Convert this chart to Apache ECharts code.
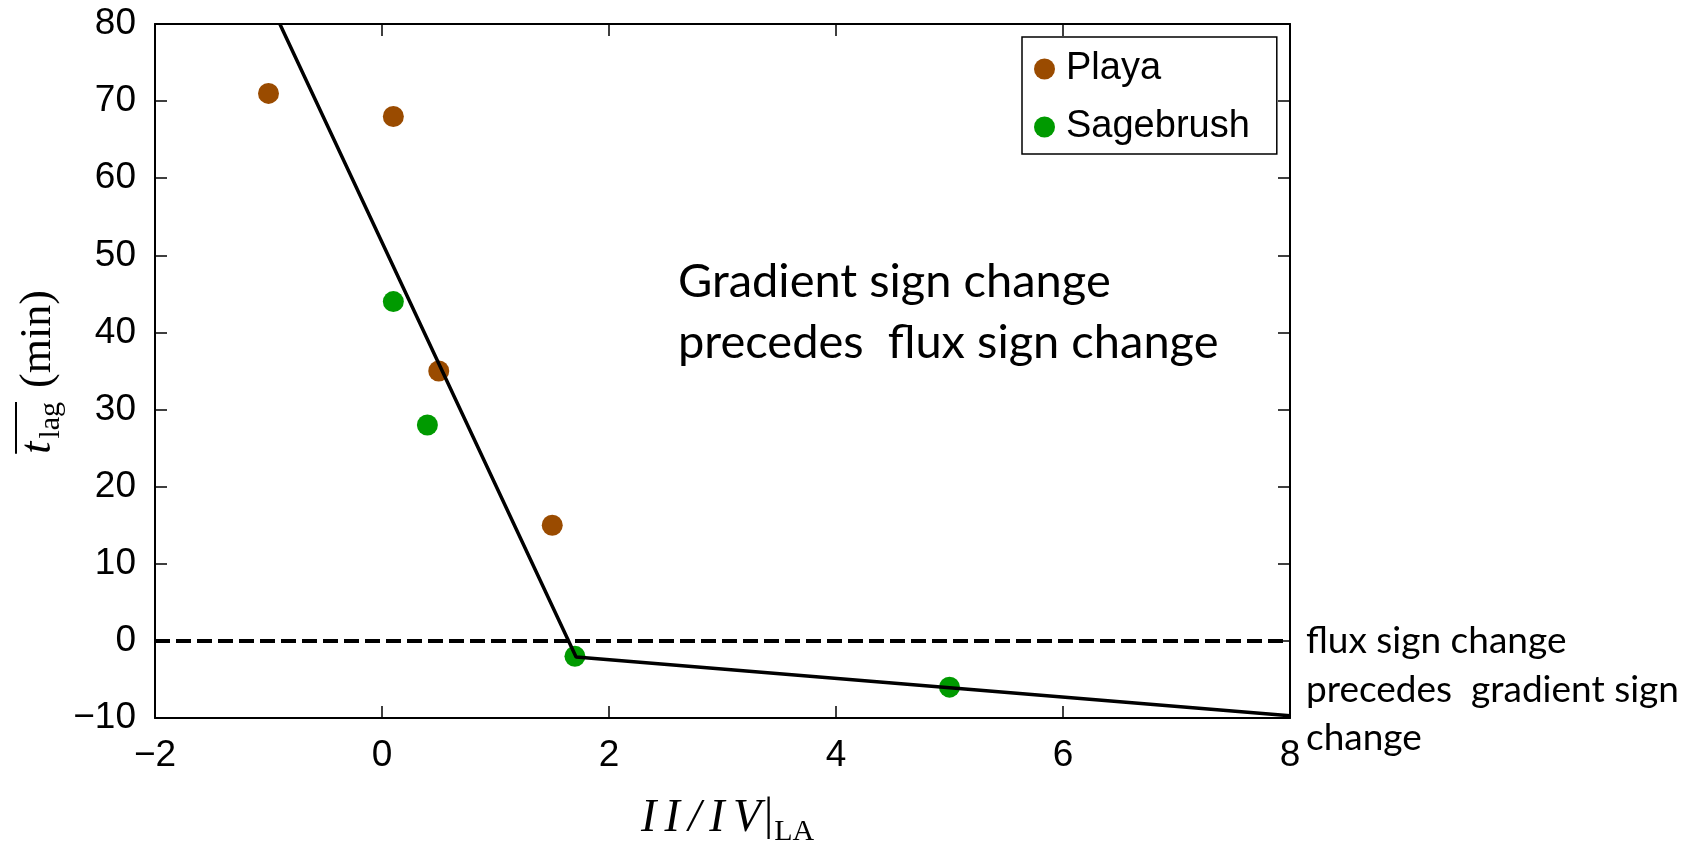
<!DOCTYPE html>
<html>
<head>
<meta charset="utf-8">
<script src="https://cdn.jsdelivr.net/npm/echarts@6/dist/echarts.min.js"></script>
<style>
  html, body { margin: 0; padding: 0; background: #ffffff; }
  #chart { width: 1681px; height: 843px; }
</style>
</head>
<body>
<div id="chart"></div>
<script>
// Mean lag time versus the II/IV ratio at the land-atmosphere interface
const playa = [[-1.0, 71], [0.1, 68], [0.5, 35], [1.5, 15]];
const sagebrush = [[0.1, 44], [0.4, 28], [1.7, -2], [5.0, -6]];
// Piecewise linear fit through both sites
const fitLine = [[-0.9, 80], [1.71, -2.1], [8, -9.7]];
// Reference level where the lag changes sign
const zeroLine = [[-2, 0], [8, 0]];
const xRange = { min: -2, max: 8, interval: 2 };
const yRange = { min: -10, max: 80, interval: 10 };
const seriesNames = ['Playa', 'Sagebrush'];
const seriesColors = ['#9a4b00', '#009a00'];

const SANS = '"Liberation Sans", Arial, Helvetica, sans-serif';
const SERIF = '"Liberation Serif", "Times New Roman", serif';
const NOTE = 'Lato, "Open Sans", sans-serif';

const mctx = document.createElement('canvas').getContext('2d');
function textWidth(text, font) { mctx.font = font; return mctx.measureText(text).width; }
// offset from the glyph baseline to the canvas "middle" line
const MID = 0.305;

const minus = v => (v < 0 ? '\u2212' + Math.abs(v) : String(v));

const axisLineStyle = { show: true, onZero: false, lineStyle: { color: '#000', width: 2 } };
const axisTickStyle = { show: true, inside: true, length: 12, lineStyle: { color: '#000', width: 1.5 } };
const tickFont = { fontFamily: SANS, fontSize: 37, color: '#000' };

// ---- y axis title: overline t with subscript "lag", then (min) ----
const fBig = 44, fSub = 30;
const fontT = `italic ${fBig}px ${SERIF}`;
const fontSub = `${fSub}px ${SERIF}`;
const fontMain = `${fBig}px ${SERIF}`;
const wT = textWidth('t', fontT) + 3;
const wLag = textWidth('lag', fontSub);
const gapMin = 14;
const wMin = textWidth('(min)', fontMain);
const Wy = wT + wLag + gapMin + wMin;
const s0 = -Wy / 2;
function txt(text, x, y, font) {
  return {
    type: 'text', x: x, y: y,
    style: { text: text, font: font, fill: '#000', align: 'left', verticalAlign: 'middle',
             textAlign: 'left', textVerticalAlign: 'middle' }
  };
}
const yTitle = {
  type: 'group', x: 52, y: 372, rotation: Math.PI / 2, silent: true,
  children: [
    txt('t', s0, -MID * fBig, fontT),
    txt('lag', s0 + wT, 8 - MID * fSub, fontSub),
    txt('(min)', s0 + wT + wLag + gapMin, -MID * fBig, fontMain),
    { type: 'line', shape: { x1: s0, y1: -36, x2: s0 + wT + wLag, y2: -36 },
      style: { stroke: '#000', lineWidth: 2 } }
  ]
};

// ---- x axis title: II/IV with evaluation bar and subscript LA ----
const fX = 46, fXs = 30;
const fontXi = `italic ${fX}px ${SERIF}`;
const fontXr = `${fX}px ${SERIF}`;
const fontXs = `${fXs}px ${SERIF}`;
const xGlyphs = ['I', 'I', '/', 'I', 'V'];
const xStart = 641, xSpan = 120, xBase = 833;
const glyphW = xGlyphs.map(g => textWidth(g, fontXi));
const extra = (xSpan - glyphW.reduce((a, b) => a + b, 0)) / (xGlyphs.length - 1);
const xTitleChildren = [];
let cx = xStart;
xGlyphs.forEach((g, i) => {
  xTitleChildren.push(txt(g, cx, xBase - MID * fX, fontXi));
  cx += glyphW[i] + extra;
});
cx = xStart + xSpan + 3;
xTitleChildren.push(txt('|', cx, xBase - 2 - MID * fX, fontXr));
cx += textWidth('|', fontXr) + 1;
xTitleChildren.push(txt('LA', cx, xBase + 8 - MID * fXs, fontXs));
const xTitle = { type: 'group', silent: true, children: xTitleChildren };

// ---- notes ----
const noteInside = {
  type: 'text', x: 678, y: 312, silent: true,
  style: { text: 'Gradient sign change\nprecedes  flux sign change', font: `47px ${NOTE}`,
           lineHeight: 61, fill: '#000', align: 'left', verticalAlign: 'middle',
           textAlign: 'left', textVerticalAlign: 'middle' }
};
const noteRight = {
  type: 'text', x: 1306, y: 690, silent: true,
  style: { text: 'flux sign change\nprecedes  gradient sign\nchange', font: `37px ${NOTE}`,
           lineHeight: 48.5, fill: '#000', align: 'left', verticalAlign: 'middle',
           textAlign: 'left', textVerticalAlign: 'middle' }
};

const chart = echarts.init(document.getElementById('chart'), null, { renderer: 'canvas' });
chart.setOption({
  animation: false,
  backgroundColor: '#ffffff',
  grid: { left: 155, right: 391, top: 24, bottom: 125, containLabel: false },
  legend: {
    data: seriesNames,
    orient: 'vertical', left: 1022, top: 37,
    icon: 'circle', itemWidth: 21, itemHeight: 21, itemGap: 20,
    padding: [13, 27, 8, 12],
    borderColor: '#000', borderWidth: 1.5, borderRadius: 0,
    backgroundColor: '#ffffff',
    selectedMode: false,
    textStyle: { fontFamily: SANS, fontSize: 38, lineHeight: 38, color: '#000', padding: [0, 0, 0, 6] }
  },
  xAxis: [
    { type: 'value', position: 'bottom', min: xRange.min, max: xRange.max, interval: xRange.interval,
      axisLine: axisLineStyle, axisTick: axisTickStyle, splitLine: { show: false },
      axisLabel: Object.assign({ margin: 19, formatter: minus }, tickFont) },
    { type: 'value', position: 'top', min: xRange.min, max: xRange.max, interval: xRange.interval,
      axisLine: axisLineStyle, axisTick: axisTickStyle, splitLine: { show: false },
      axisLabel: { show: false } }
  ],
  yAxis: [
    { type: 'value', position: 'left', min: yRange.min, max: yRange.max, interval: yRange.interval,
      axisLine: axisLineStyle, axisTick: axisTickStyle, splitLine: { show: false },
      axisLabel: Object.assign({ margin: 19, formatter: minus }, tickFont) },
    { type: 'value', position: 'right', min: yRange.min, max: yRange.max, interval: yRange.interval,
      axisLine: axisLineStyle, axisTick: axisTickStyle, splitLine: { show: false },
      axisLabel: { show: false } }
  ],
  series: [
    { name: seriesNames[0], type: 'scatter', data: playa, symbol: 'circle', symbolSize: 21,
      itemStyle: { color: seriesColors[0], opacity: 1 }, z: 2 },
    { name: seriesNames[1], type: 'scatter', data: sagebrush, symbol: 'circle', symbolSize: 21,
      itemStyle: { color: seriesColors[1], opacity: 1 }, z: 2 },
    { name: 'zero', type: 'line', data: zeroLine, symbol: 'none', silent: true, z: 3,
      lineStyle: { color: '#000', width: 4, type: [15, 6] } },
    { name: 'fit', type: 'line', data: fitLine, symbol: 'none', silent: true, z: 4, clip: true,
      lineStyle: { color: '#000', width: 3.5 } }
  ],
  graphic: [yTitle, xTitle, noteInside, noteRight]
});
</script>
</body>
</html>
